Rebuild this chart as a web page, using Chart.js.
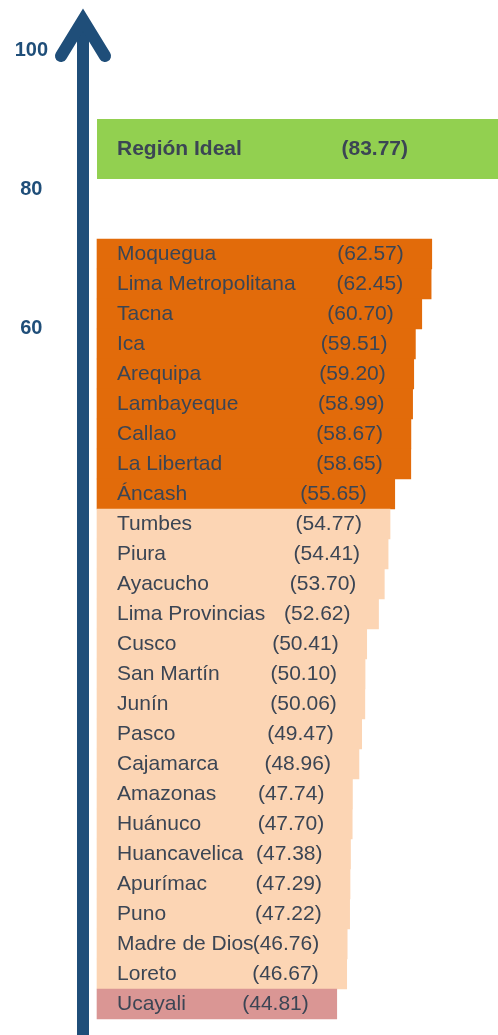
<!DOCTYPE html>
<html lang="es">
<head>
<meta charset="utf-8">
<title>Índice de Competitividad Regional</title>
<script src="https://cdn.jsdelivr.net/npm/chart.js@4.4.1/dist/chart.umd.min.js"></script>
<style>
  html, body { margin: 0; padding: 0; background: #fff; }
  #wrap { position: relative; width: 498px; height: 1035px; }
</style>
</head>
<body>
<div id="wrap"><canvas id="chart"></canvas></div>
<script>
// Data
const regions = [
  "Moquegua", "Lima Metropolitana", "Tacna", "Ica", "Arequipa", "Lambayeque",
  "Callao", "La Libertad", "Áncash", "Tumbes", "Piura", "Ayacucho",
  "Lima Provincias", "Cusco", "San Martín", "Junín", "Pasco", "Cajamarca",
  "Amazonas", "Huánuco", "Huancavelica", "Apurímac", "Puno", "Madre de Dios",
  "Loreto", "Ucayali"
];
const scores = [
  62.57, 62.45, 60.70, 59.51, 59.20, 58.99,
  58.67, 58.65, 55.65, 54.77, 54.41, 53.70,
  52.62, 50.41, 50.10, 50.06, 49.47, 48.96,
  47.74, 47.70, 47.38, 47.29, 47.22, 46.76,
  46.67, 44.81
];
const idealLabel = "Región Ideal";
const idealScore = 83.77;
const axisTicks = [100, 80, 60];

// Styles
const arrowColor = "#1F4E79";
const textColor = "#3B4554";
const font = "'Liberation Sans', Arial, sans-serif";

function tierColor(v) {
  if (v >= 55) return "#E26B0A";
  if (v >= 45) return "#FCD5B4";
  return "#DA9694";
}

// Ideal bar sits 3.5 rows above the first region
const idealRow = -3.5;

// Names and values written inside the bars
const barText = {
  id: "barText",
  afterDatasetsDraw(chart) {
    const { ctx, chartArea, scales } = chart;
    const left = scales.x.getPixelForValue(0) + 20;
    ctx.save();
    ctx.textBaseline = "middle";
    ctx.fillStyle = textColor;
    chart.data.datasets.forEach((ds, di) => {
      ctx.font = (ds.bold ? "bold " : "") + "21px " + font;
      chart.getDatasetMeta(di).data.forEach((bar, i) => {
        const clipped = bar.x > chartArea.right;
        const right = Math.min(bar.x, chartArea.right) - (clipped ? 90 : 28);
        ctx.textAlign = "left";
        ctx.fillText(ds.names[i], left, bar.y);
        ctx.textAlign = "right";
        ctx.fillText("(" + ds.data[i].x.toFixed(2) + ")", right, bar.y);
      });
    });
    ctx.restore();
  },
  afterDraw(chart) {
    // arrow head on top of the axis line
    const { ctx, chartArea } = chart;
    const cx = chart.scales.y2.right;
    const top = chartArea.top;
    ctx.save();
    ctx.strokeStyle = arrowColor;
    ctx.lineWidth = 12;
    ctx.lineCap = "round";
    ctx.lineJoin = "miter";
    ctx.beginPath();
    ctx.moveTo(cx - 22, top + 32);
    ctx.lineTo(cx, top - 4);
    ctx.lineTo(cx + 22, top + 32);
    ctx.stroke();
    ctx.restore();
  }
};

new Chart(document.getElementById("chart"), {
  type: "bar",
  data: {
    datasets: [
      {
        names: [idealLabel],
        bold: true,
        data: [{ x: idealScore, y: idealRow }],
        backgroundColor: "#92D050",
        barPercentage: 2,
        categoryPercentage: 1,
        grouped: false,
        borderWidth: 0
      },
      {
        names: regions,
        bold: false,
        data: scores.map((v, i) => ({ x: v, y: i })),
        backgroundColor: scores.map(tierColor),
        barPercentage: 1,
        categoryPercentage: 1,
        grouped: false,
        borderWidth: 0
      }
    ]
  },
  options: {
    indexAxis: "y",
    responsive: true,
    maintainAspectRatio: false,
    animation: false,
    events: [],
    layout: { padding: { top: 24, right: 0, bottom: 0, left: 0 } },
    plugins: { legend: { display: false }, tooltip: { enabled: false } },
    scales: {
      x: { type: "linear", display: false, min: -2.62, max: 74.95 },
      y: {
        type: "linear",
        display: false,
        offset: false,
        reverse: true,
        min: -23 / 3,
        max: 781 / 30,
        ticks: { stepSize: 1, includeBounds: false }
      },
      y2: {
        type: "linear",
        position: "left",
        offset: false,
        min: -41.5,
        max: 103.75,
        afterBuildTicks: s => { s.ticks = axisTicks.map(v => ({ value: v })); },
        afterFit: s => { s.width = 83; s.paddingTop = 0; s.paddingBottom = 0; },
        grid: { display: false, drawTicks: false },
        border: { display: true, color: arrowColor, width: 12 },
        ticks: {
          color: arrowColor,
          font: { family: font, size: 20, weight: "bold" },
          crossAlign: "center",
          padding: 35,
          autoSkip: false
        }
      }
    }
  },
  plugins: [barText]
});
</script>
</body>
</html>
